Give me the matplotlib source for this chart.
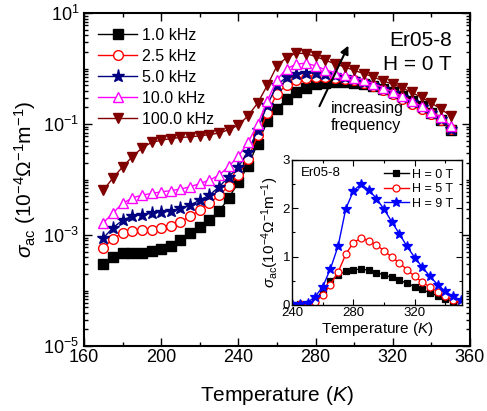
import numpy as np
import matplotlib
matplotlib.use('Agg')
import matplotlib.pyplot as plt
from matplotlib.ticker import FixedLocator, LogLocator, NullFormatter, FixedFormatter, MultipleLocator

plt.rcParams['font.family'] = ['Liberation Sans', 'DejaVu Sans']
plt.rcParams['mathtext.fontset'] = 'custom'
plt.rcParams['mathtext.rm'] = 'Liberation Sans'
plt.rcParams['mathtext.it'] = 'Liberation Sans:italic'
plt.rcParams['mathtext.bf'] = 'Liberation Sans:bold'

# main panel: log10 of sigma_ac (1e-4 /Ohm/m) vs temperature, H = 0 T
temp = np.arange(170, 351, 5)
log_1k = [-3.52, -3.40, -3.33, -3.33, -3.33, -3.29, -3.25, -3.19, -3.09, -2.97, -2.85, -2.73, -2.57,
          -2.33, -2.05, -1.75, -1.35, -0.95, -0.72, -0.55, -0.43, -0.34, -0.28, -0.25, -0.24, -0.24,
          -0.25, -0.28, -0.32, -0.37, -0.43, -0.50, -0.58, -0.68, -0.80, -0.93, -1.10]
log_2k5 = [-3.23, -3.07, -2.96, -2.92, -2.91, -2.90, -2.88, -2.84, -2.76, -2.66, -2.55, -2.43, -2.28,
           -2.12, -1.92, -1.62, -1.20, -0.80, -0.45, -0.30, -0.21, -0.17, -0.15, -0.15, -0.16, -0.18,
           -0.21, -0.26, -0.32, -0.39, -0.46, -0.54, -0.63, -0.72, -0.82, -0.93, -1.09]
log_5k = [-3.05, -2.87, -2.73, -2.66, -2.63, -2.60, -2.58, -2.57, -2.52, -2.46, -2.37, -2.28, -2.13,
          -1.95, -1.77, -1.50, -1.10, -0.65, -0.30, -0.15, -0.10, -0.08, -0.08, -0.10, -0.12, -0.15,
          -0.19, -0.24, -0.30, -0.37, -0.44, -0.52, -0.61, -0.70, -0.80, -0.91, -1.08]
log_10k = [-2.78, -2.60, -2.43, -2.33, -2.28, -2.25, -2.22, -2.20, -2.17, -2.13, -2.07, -2.01, -1.92,
           -1.76, -1.58, -1.33, -1.00, -0.58, -0.20, 0.00, 0.08, 0.10, 0.05, -0.02, -0.07, -0.12,
           -0.16, -0.21, -0.27, -0.34, -0.42, -0.50, -0.59, -0.68, -0.78, -0.88, -1.03]
log_100k = [-2.19, -1.97, -1.77, -1.59, -1.43, -1.33, -1.29, -1.26, -1.24, -1.23, -1.21, -1.19, -1.16,
            -1.10, -1.02, -0.85, -0.62, -0.30, 0.05, 0.20, 0.28, 0.27, 0.22, 0.15, 0.09, 0.03,
            -0.03, -0.09, -0.15, -0.22, -0.28, -0.35, -0.43, -0.52, -0.62, -0.73, -0.85]

# inset: linear sigma_ac at 1 kHz for three fields
temp_in = np.arange(240, 351, 5)
sig_0T = [0.00, 0.01, 0.03, 0.10, 0.30, 0.50, 0.62, 0.70, 0.73, 0.74, 0.72, 0.67, 0.62, 0.57, 0.51,
          0.45, 0.38, 0.32, 0.25, 0.19, 0.12, 0.08, 0.04]
sig_5T = [0.00, 0.01, 0.03, 0.07, 0.20, 0.42, 0.68, 1.05, 1.29, 1.38, 1.33, 1.24, 1.12, 0.99, 0.87,
          0.73, 0.59, 0.47, 0.37, 0.27, 0.18, 0.10, 0.05]
sig_9T = [0.01, 0.02, 0.05, 0.17, 0.38, 0.75, 1.22, 1.99, 2.36, 2.50, 2.38, 2.20, 1.98, 1.72, 1.47,
          1.21, 0.98, 0.78, 0.59, 0.42, 0.28, 0.18, 0.10]

fig = plt.figure(figsize=(4.87, 4.11), dpi=100)
ax = fig.add_axes([0.1725, 0.158, 0.7925, 0.810])

series = [
    (log_1k, '1.0 kHz', 'black', 's', 'black'),
    (log_2k5, '2.5 kHz', 'red', 'o', 'white'),
    (log_5k, '5.0 kHz', '#000080', '*', '#000080'),
    (log_10k, '10.0 kHz', '#ff00ff', '^', 'white'),
    (log_100k, '100.0 kHz', '#800000', 'v', '#800000'),
]
for vals, lab, col, mk, fc in series:
    ms = 9.5 if mk == '*' else 7
    ax.plot(temp, 10 ** np.array(vals), color=col, marker=mk, ms=ms, mfc=fc, mec=col,
            mew=1.0, lw=1.0, label=lab)

ax.set_yscale('log')
ax.set_xlim(160, 360)
ax.set_ylim(1e-5, 10)
ax.xaxis.set_major_locator(MultipleLocator(40))
ax.xaxis.set_minor_locator(MultipleLocator(20))
ax.yaxis.set_major_locator(FixedLocator([1e-5, 1e-3, 1e-1, 1e1]))
ax.yaxis.set_major_formatter(FixedFormatter([r'$10^{-5}$', r'$10^{-3}$', r'$10^{-1}$', r'$10^{1}$']))
ax.yaxis.set_minor_locator(LogLocator(base=10, subs=np.arange(1, 10), numticks=20))
ax.yaxis.set_minor_formatter(NullFormatter())
ax.tick_params(which='both', direction='in', top=True, right=True, width=1.0)
ax.tick_params(which='major', length=6, labelsize=13)
ax.tick_params(which='minor', length=3)
ax.tick_params(axis='x', which='major', pad=2)
for sp in ax.spines.values():
    sp.set_linewidth(1.5)
ax.set_xlabel(r'Temperature ($K$)', fontsize=15, labelpad=13)
ax.set_ylabel(r'$\sigma_{\rm ac}$ (10$^{-4}\Omega^{-1}$m$^{-1}$)', fontsize=15, labelpad=4)

ax.legend(loc='upper left', bbox_to_anchor=(0.0, 1.0), frameon=False, fontsize=11.5,
          handlelength=2.4, labelspacing=0.38, handletextpad=0.3, borderaxespad=0.5)

ax.text(0.953, 0.945, 'Er05-8\nH = 0 T', transform=ax.transAxes, ha='right', va='top',
        fontsize=15, linespacing=1.3)
ax.annotate('', xy=(297, 2.6), xytext=(282, 0.21),
            arrowprops=dict(arrowstyle='-|>', color='black', lw=1.5, mutation_scale=12,
                            shrinkA=0, shrinkB=0))
ax.text(288, 10 ** -0.87, 'increasing\nfrequency', fontsize=11.5, ha='left', va='center',
        linespacing=1.2)

# inset
ax2 = fig.add_axes([0.600, 0.258, 0.349, 0.353])
inset = [
    (sig_0T, 'H = 0 T', 'black', 's', 'black'),
    (sig_5T, 'H = 5 T', 'red', 'o', 'white'),
    (sig_9T, 'H = 9 T', 'blue', '*', 'blue'),
]
for vals, lab, col, mk, fc in inset:
    ms = 7 if mk == '*' else 5
    ax2.plot(temp_in, vals, color=col, marker=mk, ms=ms, mfc=fc, mec=col, mew=0.9, lw=1.0, label=lab)
ax2.set_xlim(240, 351)
ax2.set_ylim(0, 3)
ax2.xaxis.set_major_locator(MultipleLocator(40))
ax2.xaxis.set_minor_locator(MultipleLocator(20))
ax2.yaxis.set_major_locator(MultipleLocator(1))
ax2.yaxis.set_minor_locator(MultipleLocator(0.5))
ax2.tick_params(which='both', direction='in', top=True, right=True, width=0.8, pad=1.5)
ax2.tick_params(which='major', length=4, labelsize=9.5)
ax2.tick_params(which='minor', length=2)
for sp in ax2.spines.values():
    sp.set_linewidth(1.0)
ax2.set_xlabel(r'Temperature ($K$)', fontsize=11, labelpad=1)
ax2.set_ylabel(r'$\sigma_{\rm ac}$(10$^{-4}\Omega^{-1}$m$^{-1}$)', fontsize=11, labelpad=1)
ax2.text(0.05, 0.95, 'Er05-8', transform=ax2.transAxes, ha='left', va='top', fontsize=9.5)
ax2.legend(loc='upper right', frameon=False, fontsize=9, handlelength=2.0, labelspacing=0.2,
           handletextpad=0.3, borderaxespad=0.3)

fig.savefig('out.png', dpi=100)
